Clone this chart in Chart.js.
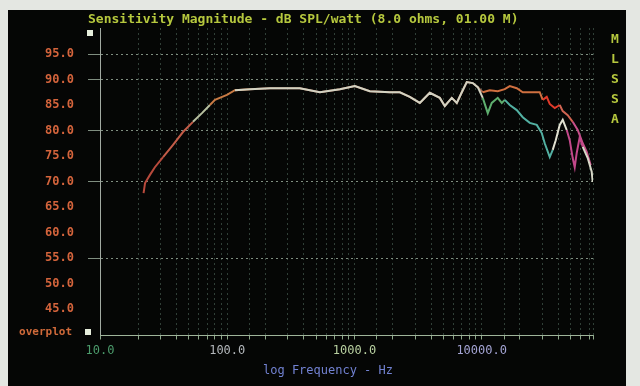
<!DOCTYPE html>
<html>
<head>
<meta charset="utf-8">
<script src="https://cdn.jsdelivr.net/npm/chart.js@4.4.1/dist/chart.umd.min.js"></script>
<style>
  html, body { margin: 0; padding: 0; background: #e4e7e2; }
  #wrap { position: relative; width: 640px; height: 386px; }
</style>
</head>
<body>
<div id="wrap"><canvas id="chart" width="640" height="386"></canvas></div>
<script>
// frequency (Hz) and level (dB SPL/watt)
const freqA = [22, 22.6, 24.7, 27, 31.3, 37.5, 44.9, 53.8, 63.3, 73.1, 80.1, 99.5, 115, 151, 217, 372, 535, 768, 1007, 1321, 1897, 2273, 2724, 3264, 3911, 4688, 5131, 5823, 6374, 6980, 7638, 8514, 9320, 10200, 11570, 13380, 15190, 16630, 18870, 21030, 25200, 28600, 30200, 32470, 34280, 37520, 41070, 43370, 47470, 51950, 56880, 62280, 66930, 71950];
const splA = [67.7, 69.7, 71.3, 72.8, 74.8, 77.2, 79.7, 81.7, 83.4, 85.0, 86.0, 87.0, 87.9, 88.1, 88.3, 88.3, 87.5, 88.1, 88.7, 87.7, 87.5, 87.5, 86.6, 85.4, 87.4, 86.4, 84.8, 86.4, 85.4, 87.5, 89.5, 89.3, 88.5, 87.5, 87.9, 87.7, 88.1, 88.7, 88.3, 87.5, 87.5, 87.5, 86.0, 86.6, 85.2, 84.4, 85.0, 83.8, 83.0, 81.7, 80.1, 77.5, 75.8, 73.2];

const freqB = [115, 151, 217, 372, 535, 768, 1007, 1321, 1897, 2273, 2724, 3264, 3911, 4688, 5131, 5823, 6374, 6980, 7638, 8514, 9320, 10200, 11170, 12000, 13380, 14390, 15190, 16630, 18870, 21030, 23870, 27100, 29660, 31300, 34280, 36190, 38210, 41070, 43370, 46620, 49220, 51950, 53870, 55860, 58980, 62280, 68160, 73270, 74600];
const splB = [87.9, 88.1, 88.3, 88.3, 87.5, 88.1, 88.7, 87.7, 87.5, 87.5, 86.6, 85.4, 87.4, 86.4, 84.8, 86.4, 85.4, 87.5, 89.5, 89.3, 88.5, 86.4, 83.4, 85.4, 86.4, 85.4, 86.0, 85.0, 84.0, 82.6, 81.5, 81.1, 79.5, 77.5, 74.8, 76.2, 78.1, 81.1, 82.1, 80.1, 78.1, 74.6, 72.8, 75.6, 78.7, 76.8, 74.6, 71.9, 69.9];

const xLabels = [10, 100, 1000, 10000];
const xLabelColors = ["#4c9c6c", "#b4b8bc", "#b8d0a0", "#a4a4d4"];
const yGridShown = [95, 90, 80, 70, 55];
const sideLetters = ["M", "L", "S", "S", "A"];

const mono = "'DejaVu Sans Mono', monospace";

// colour of the trace changes along frequency, like on the CRT photo
function colorA(f) {
  if (f < 30) return "#b84a3c";
  if (f < 45) return "#c25c48";
  if (f < 66) return "#b8c0a0";
  if (f < 120) return "#c87a44";
  if (f < 9500) return "#a86a52";
  if (f < 29000) return "#d07040";
  if (f < 40000) return "#e03a2a";
  if (f < 50000) return "#d06452";
  return "#c8508a";
}
function colorB(f) {
  if (f < 9500) return "#d2d2c2";
  if (f < 15000) return "#5eae6e";
  if (f < 35000) return "#52b0a2";
  if (f < 46000) return "#e0e0d0";
  if (f < 62000) return "#c2488a";
  return "#d8d8c8";
}

const decor = {
  id: "decor",
  beforeDraw(chart) {
    const c = chart.ctx;
    c.save();
    c.fillStyle = "#e4e7e2";
    c.fillRect(0, 0, 640, 386);
    c.fillStyle = "#050605";
    c.fillRect(8, 10, 618, 376);
    c.restore();
  },
  afterDraw(chart) {
    const c = chart.ctx;
    const a = chart.chartArea;
    c.save();
    // solid bottom axis line
    c.strokeStyle = "#9fb49a";
    c.lineWidth = 1;
    c.beginPath();
    c.moveTo(a.left, Math.round(a.bottom) + 0.5);
    c.lineTo(a.right, Math.round(a.bottom) + 0.5);
    c.stroke();

    c.textBaseline = "middle";
    c.textAlign = "left";
    c.font = "bold 13px " + mono;
    c.fillStyle = "#b6c83e";
    c.fillText("Sensitivity Magnitude - dB SPL/watt (8.0 ohms, 01.00 M)", 88, 20);

    c.textAlign = "center";
    sideLetters.forEach((ch, i) => c.fillText(ch, 615, 40 + i * 20));

    c.font = "12px " + mono;
    c.fillStyle = "#7282d2";
    c.fillText("log Frequency - Hz", 328, 371);

    c.textAlign = "right";
    c.font = "bold 11px " + mono;
    c.fillStyle = "#d06a3a";
    c.fillText("overplot", 72, 332);

    c.fillStyle = "#e6eedc";
    c.fillRect(87, 30, 6, 6);
    c.fillRect(85, 329, 6, 6);
    c.restore();
  },
};

new Chart(document.getElementById("chart"), {
  type: "line",
  data: {
    datasets: [
      {
        label: "B",
        data: freqB.map((f, i) => ({ x: f, y: splB[i] })),
        borderWidth: 2,
        pointRadius: 0,
        tension: 0,
        segment: { borderColor: (ctx) => colorB(ctx.p0.parsed.x) },
      },
      {
        label: "A",
        data: freqA.map((f, i) => ({ x: f, y: splA[i] })),
        borderWidth: 2,
        pointRadius: 0,
        tension: 0,
        segment: { borderColor: (ctx) => colorA(ctx.p0.parsed.x) },
      },
    ],
  },
  options: {
    responsive: false,
    animation: false,
    layout: { padding: { top: 28.5, right: 47, left: 0, bottom: 0 } },
    plugins: { legend: { display: false }, tooltip: { enabled: false } },
    scales: {
      x: {
        type: "logarithmic",
        min: 10,
        max: 75000,
        afterFit: (scale) => { scale.height = 51.5; },
        // in Chart.js v4 the dash of the grid lines comes from border.dash
        border: { display: false, dash: [1, 4] },
        grid: {
          color: "rgba(120,160,140,0.75)",
          tickColor: "#8ea88a",
          tickBorderDash: [],
          tickLength: 5,
        },
        ticks: {
          autoSkip: false,
          maxRotation: 0,
          padding: 4,
          font: { family: mono, size: 12 },
          color: (ctx) => {
            const k = xLabels.indexOf(ctx.tick.value);
            return k >= 0 ? xLabelColors[k] : "transparent";
          },
          callback: (v) => (xLabels.includes(v) ? v + ".0" : ""),
        },
      },
      y: {
        min: 40,
        max: 100,
        afterFit: (scale) => { scale.width = 100; },
        border: { display: true, color: "#a2aaa2", dash: [2, 3] },
        grid: {
          color: (ctx) => (yGridShown.includes(ctx.tick.value) ? "#7f8e80" : "transparent"),
          tickLength: 12,
          tickBorderDash: [],
        },
        ticks: {
          stepSize: 5,
          padding: 14,
          font: { family: mono, size: 12, weight: "bold" },
          color: "#d4643c",
          callback: (v) => (v === 40 || v === 100 ? "" : v.toFixed(1)),
        },
      },
    },
  },
  plugins: [decor],
});
</script>
</body>
</html>
